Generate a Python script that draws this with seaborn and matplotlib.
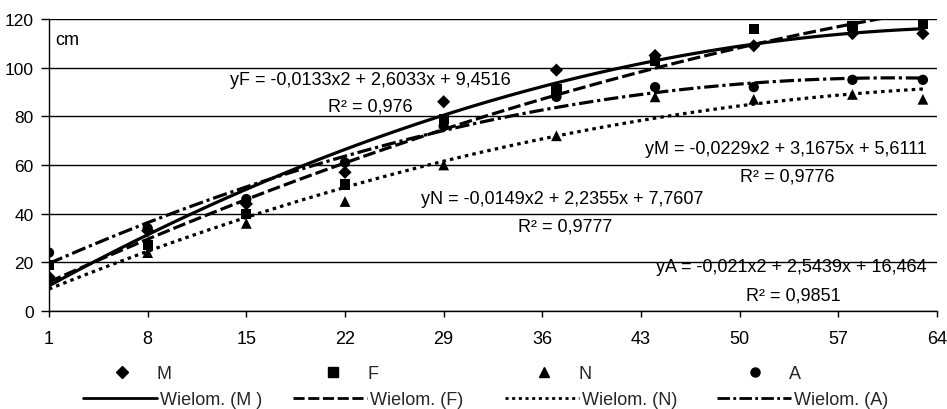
import numpy as np
import pandas as pd
import matplotlib
matplotlib.use("Agg")
import matplotlib.pyplot as plt
import seaborn as sns
from matplotlib.lines import Line2D

# ---- data ----
days = [1, 8, 15, 22, 29, 37, 44, 51, 58, 63]
M = [14, 33, 44, 57, 86, 99, 105, 109, 114, 114]
F = [19, 27, 40, 52, 79, 91, 103, 116, 117, 118]
N = [13, 24, 36, 45, 60, 72, 88, 87, 89, 87]
A = [24, 34, 46, 61, 76, 88, 92, 92, 95, 95]

series_names = ["M", "F", "N", "A"]
legend_lines = ["Wielom. (M )", "Wielom. (F)", "Wielom. (N)", "Wielom. (A)"]
eq_texts = ["yM = -0,0229x2 + 3,1675x + 5,6111",
            "yF = -0,0133x2 + 2,6033x + 9,4516",
            "yN = -0,0149x2 + 2,2355x + 7,7607",
            "yA = -0,021x2 + 2,5439x + 16,464"]
r2_texts = ["R² = 0,9776", "R² = 0,976", "R² = 0,9777", "R² = 0,9851"]
xticks = [1, 8, 15, 22, 29, 36, 43, 50, 57, 64]
yticks = [0, 20, 40, 60, 80, 100, 120]

# ---- styles ----
markers = ["D", "s", "^", "o"]
msizes = [45, 55, 60, 55]
line_styles = ["-", (0, (4, 1.3)), (0, (1.1, 1.3)), (0, (4.5, 1.2, 1.0, 1.2))]

sns.set_theme(style="white")
plt.rcParams["font.family"] = ["Liberation Sans", "DejaVu Sans"]

W, H = 947, 410
fig = plt.figure(figsize=(W / 100, H / 100), dpi=100)
ax = fig.add_axes([49 / W, 1 - 312 / H, (937 - 49) / W, (312 - 20) / H])

data = {"M": M, "F": F, "N": N, "A": A}
for name, mk, ms, ls in zip(series_names, markers, msizes, line_styles):
    vals = data[name]
    sns.regplot(x=days, y=vals, order=2, ci=None, scatter=False, truncate=True,
                color="black", line_kws=dict(lw=2.3, linestyle=ls), ax=ax)
    sns.scatterplot(x=days, y=vals, marker=mk, color="black", s=ms,
                    edgecolor="none", ax=ax, zorder=4)

ax.set_xlim(1, 64)
ax.set_ylim(0, 120)
ax.set_xticks(xticks)
ax.set_yticks(yticks)
ax.set_xlabel("")
ax.set_ylabel("")
ax.yaxis.grid(True, color="black", lw=1.0)
ax.xaxis.grid(False)
ax.set_axisbelow(True)
for s in ["top", "right"]:
    ax.spines[s].set_visible(False)
for s in ["left", "bottom"]:
    ax.spines[s].set_color("black")
    ax.spines[s].set_linewidth(1.0)
ax.tick_params(axis="x", direction="out", length=4, width=1, pad=10,
               labelsize=13, colors="black", bottom=True)
ax.tick_params(axis="y", direction="out", length=6, width=1, pad=5,
               labelsize=12.5, colors="black", left=True)

# unit label
ax.text(0.007, 0.93, "cm", transform=ax.transAxes, fontsize=13,
        ha="left", va="center", color="black")

# trendline labels (axes fraction positions)
eq_pos = [(0.830, 0.555), (0.3615, 0.7945), (0.578, 0.3836), (0.836, 0.1507)]
r2_pos = [(0.831, 0.462), (0.3615, 0.702), (0.581, 0.291), (0.838, 0.0548)]
for t, (x, y) in zip(eq_texts, eq_pos):
    ax.text(x, y, t, transform=ax.transAxes, fontsize=13, ha="center",
            va="center", color="black", zorder=5)
for t, (x, y) in zip(r2_texts, r2_pos):
    ax.text(x, y, t, transform=ax.transAxes, fontsize=13, ha="center",
            va="center", color="black", zorder=5)

# legends: marker row and line row
mk_centers = [122, 333, 544, 755]
for name, mk, xc in zip(series_names, markers, mk_centers):
    h = Line2D([], [], marker=mk, color="black", linestyle="none", markersize=6.5)
    fig.legend([h], [name], loc="center left",
               bbox_to_anchor=((xc - 9) / W, 1 - 375 / H),
               frameon=False, borderpad=0, borderaxespad=0,
               handlelength=1.0, handletextpad=1.4, fontsize=13)

ln_starts = [83, 293, 505, 717]
for lab, ls, xs in zip(legend_lines, line_styles, ln_starts):
    h = Line2D([], [], color="black", lw=2.0, linestyle=ls)
    fig.legend([h], [lab], loc="center left",
               bbox_to_anchor=(xs / W, 1 - 401 / H),
               frameon=False, borderpad=0, borderaxespad=0,
               handlelength=4.1, handletextpad=0.15, fontsize=13)

fig.savefig("out.png", dpi=100)
